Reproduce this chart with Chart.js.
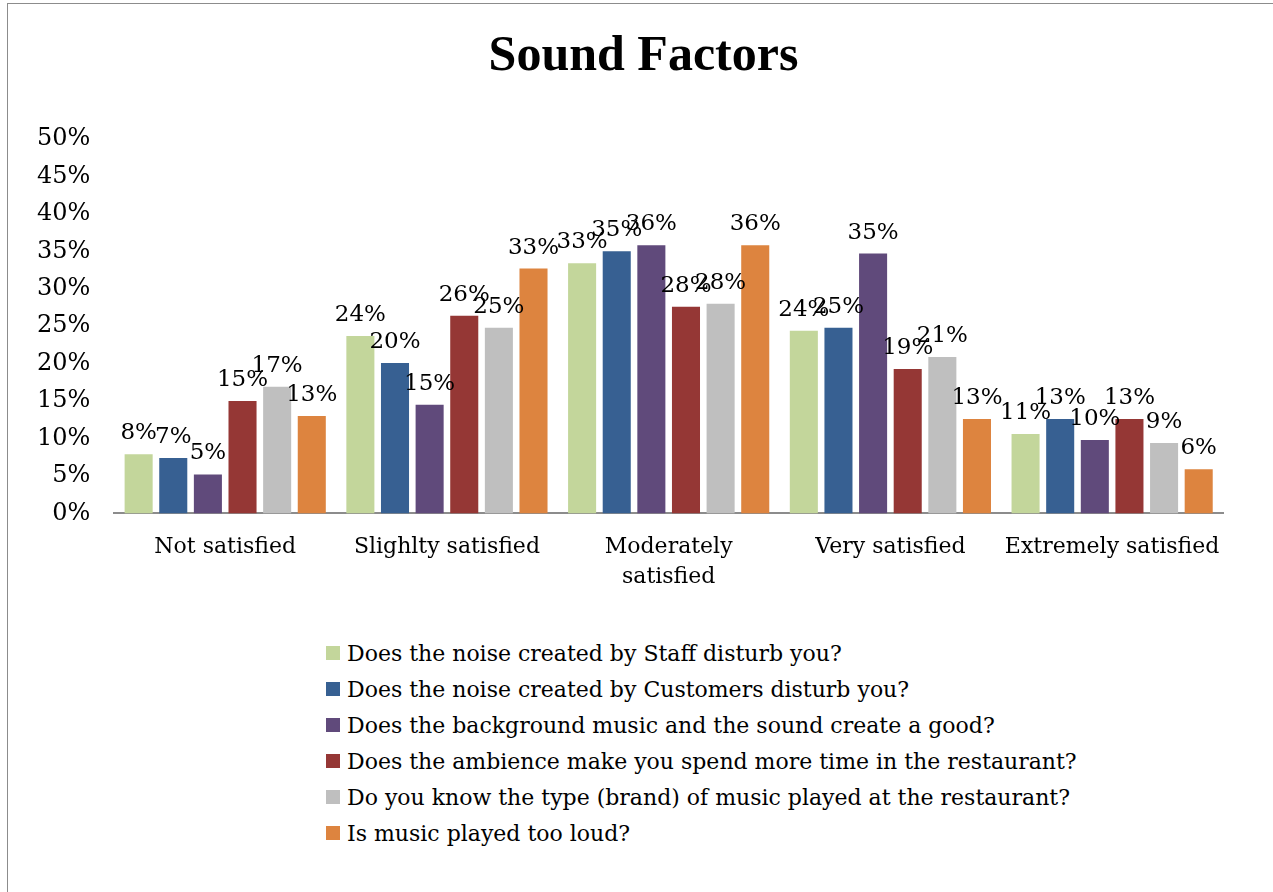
<!DOCTYPE html>
<html>
<head>
<meta charset="utf-8">
<title>Sound Factors</title>
<script src="https://cdn.jsdelivr.net/npm/chart.js@4.4.0/dist/chart.umd.min.js"></script>
<style>
  html, body { margin: 0; padding: 0; background: #fff; overflow: hidden; }
  body { width: 1273px; height: 892px; position: relative; font-family: "DejaVu Serif", serif; }
  .frame { position: absolute; left: 7px; top: 3px; width: 1300px; height: 920px; border: 1px solid #8c8c8c; }
  .chart-box { position: absolute; left: 0; top: 0; width: 1273px; height: 625px; }
  #legend { position: absolute; left: 326px; top: 635px; }
  #legend .item { display: flex; align-items: center; height: 36px; font-size: 22px; color: #000; white-space: nowrap; }
  #legend .swatch { width: 14px; height: 14px; margin-right: 7px; flex: none; }
</style>
</head>
<body>
<div class="frame"></div>
<div class="chart-box"><canvas id="soundChart"></canvas></div>
<div id="legend"></div>

<script>
// kategori sumbu x
const categories = ['Not satisfied', 'Slighlty satisfied', ['Moderately', 'satisfied'], 'Very satisfied', 'Extremely satisfied'];

// nama seri (pertanyaan)
const seriesNames = [
  'Does the noise created by Staff disturb you?',
  'Does the noise created by Customers disturb you?',
  'Does the background music and the sound create a good?',
  'Does the ambience make you spend more time in the restaurant?',
  'Do you know the type (brand) of music played at the restaurant?',
  'Is music played too loud?'
];

// nilai (%) per seri
const staffNoise    = [7.9, 23.7, 33.4, 24.4, 10.6];
const customerNoise = [7.4, 20.1, 35.0, 24.8, 12.6];
const musicSound    = [5.2, 14.5, 35.8, 34.7, 9.8];
const ambience      = [15.0, 26.4, 27.6, 19.3, 12.6];
const musicBrand    = [16.9, 24.8, 28.0, 20.9, 9.4];
const tooLoud       = [13.0, 32.7, 35.8, 12.6, 5.9];

const seriesColors = ['#C3D69B', '#376092', '#604A7B', '#953735', '#BFBFBF', '#DD843F'];

const serif = '"DejaVu Serif", serif';
const titleSerif = '"Liberation Serif", serif';

// label nilai di atas batang
const valueLabels = {
  id: 'valueLabels',
  afterDatasetsDraw(chart) {
    const ctx = chart.ctx;
    ctx.save();
    ctx.font = '23px ' + serif;
    ctx.fillStyle = '#000';
    ctx.textAlign = 'center';
    ctx.textBaseline = 'alphabetic';
    chart.data.datasets.forEach((ds, i) => {
      chart.getDatasetMeta(i).data.forEach((bar, j) => {
        ctx.fillText(Math.round(ds.data[j]) + '%', bar.x, bar.y - 15);
      });
    });
    ctx.restore();
  }
};

// judul di tengah seluruh bingkai, bukan hanya area plot
const centerTitle = {
  id: 'centerTitle',
  afterLayout(chart) {
    if (chart.titleBlock) {
      chart.titleBlock.left = 7;
      chart.titleBlock.right = chart.width + 7;
    }
  }
};

const allSeries = [staffNoise, customerNoise, musicSound, ambience, musicBrand, tooLoud];

const ctx = document.getElementById('soundChart').getContext('2d');
const soundChart = new Chart(ctx, {
  type: 'bar',
  data: {
    labels: categories,
    datasets: allSeries.map((vals, i) => ({
      label: seriesNames[i],
      data: vals,
      backgroundColor: seriesColors[i],
      borderWidth: 0,
      barPercentage: 0.81,
      categoryPercentage: 0.937
    }))
  },
  options: {
    responsive: true,
    maintainAspectRatio: false,
    animation: false,
    layout: { padding: { left: 13, right: 50, top: 0, bottom: 14 } },
    plugins: {
      legend: { display: false },
      tooltip: { enabled: false },
      title: {
        display: true,
        text: 'Sound Factors',
        color: '#000',
        font: { family: titleSerif, size: 50, weight: 'bold' },
        padding: { top: 27, bottom: 52 }
      }
    },
    scales: {
      x: {
        grid: { display: false, drawTicks: false },
        border: { display: true, color: '#8c8c8c', width: 2 },
        ticks: { color: '#000', font: { family: serif, size: 22, lineHeight: 1.4 }, padding: 18, maxRotation: 0, autoSkip: false }
      },
      y: {
        min: 0,
        max: 50,
        grid: { display: false, drawTicks: false },
        border: { display: false },
        ticks: {
          stepSize: 5,
          color: '#000',
          font: { family: serif, size: 24 },
          padding: 24,
          callback: v => v + '%'
        }
      }
    }
  },
  plugins: [valueLabels, centerTitle]
});

// legenda HTML, satu baris per seri
const legendEl = document.getElementById('legend');
seriesNames.forEach((name, i) => {
  const row = document.createElement('div');
  row.className = 'item';
  const sw = document.createElement('span');
  sw.className = 'swatch';
  sw.style.background = seriesColors[i];
  const txt = document.createElement('span');
  txt.textContent = name;
  row.appendChild(sw);
  row.appendChild(txt);
  legendEl.appendChild(row);
});
</script>
</body>
</html>
